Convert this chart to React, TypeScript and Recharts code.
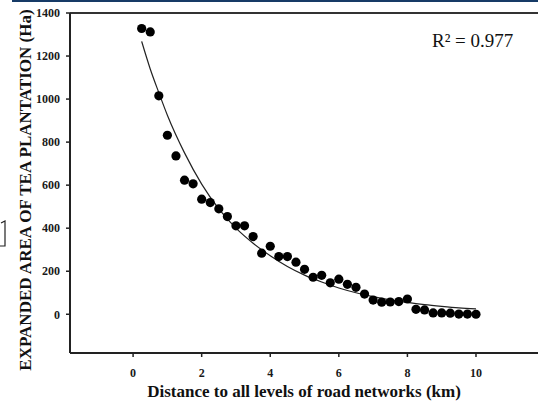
import { ComposedChart, Line, ReferenceLine, Scatter, XAxis, YAxis } from 'recharts'

// Distance (km) and expanded tea plantation area (Ha).
const distanceKm = [
  0.25, 0.5, 0.75, 1.0, 1.25, 1.5, 1.75, 2.0, 2.25, 2.5,
  2.75, 3.0, 3.25, 3.5, 3.75, 4.0, 4.25, 4.5, 4.75, 5.0,
  5.25, 5.5, 5.75, 6.0, 6.25, 6.5, 6.75, 7.0, 7.25, 7.5,
  7.75, 8.0, 8.25, 8.5, 8.75, 9.0, 9.25, 9.5, 9.75, 10.0,
]
const expandedHa = [
  1328, 1312, 1015, 832, 736, 623, 606, 535, 519, 490,
  454, 411, 411, 361, 284, 316, 268, 268, 242, 209,
  172, 181, 146, 163, 139, 125, 94, 66, 56, 57,
  59, 71, 23, 20, 6, 6, 5, 1, 1, 0,
]

// Fitted curve, sampled from the drawn line.
const curveKm = [0.25, 0.5, 0.75, 1.0, 1.5, 2.0, 2.5, 3.0, 3.5, 4.0, 4.5, 5.0, 5.5, 6.0, 6.5, 7.0, 7.5, 8.0, 8.5, 9.0, 9.5, 10.0]
const curveHa = [1268, 1140, 1030, 925, 750, 605, 490, 400, 330, 272, 222, 182, 150, 122, 100, 82, 67, 55, 45, 37, 30, 25]

const xTicks = [0, 2, 4, 6, 8, 10]
const yTicks = [0, 200, 400, 600, 800, 1000, 1200, 1400]

const rSquared = 'R² = 0.977'
const xTitle = 'Distance to all levels of road networks (km)'
const yTitle = 'EXPANDED AREA OF TEA PLANTATION (Ha)'

const points = distanceKm.map((x, i) => ({ x, y: expandedHa[i] }))
const curve = curveKm.map((x, i) => ({ x, y: curveHa[i] }))

const serif = '"Liberation Serif", "Times New Roman", serif'
const tickStyle = { fill: '#1a1a1a', fontSize: 12, fontWeight: 700, fontFamily: serif }
const axisLine = { stroke: '#222', strokeWidth: 2 }

const Dot = (props: any) => <circle cx={props.cx} cy={props.cy} r={4.6} fill="#000" />

export default function App() {
  return (
    <div style={{ position: 'fixed', left: 0, top: 0, width: 538, height: 404, overflow: 'hidden', background: '#fff' }}>
      <ComposedChart width={620} height={404} margin={{ top: 13, right: 48, bottom: 0, left: 0 }}>
        <XAxis
          type="number"
          dataKey="x"
          domain={[-1.84, 12.8]}
          ticks={xTicks}
          allowDataOverflow
          height={51}
          tick={tickStyle}
          tickSize={4}
          tickMargin={11}
          axisLine={axisLine}
          tickLine={{ stroke: '#222', strokeWidth: 1.5 }}
        />
        <YAxis
          type="number"
          dataKey="y"
          domain={[-180, 1400]}
          ticks={yTicks}
          allowDataOverflow
          width={70}
          tick={tickStyle}
          tickSize={4}
          tickMargin={6}
          axisLine={axisLine}
          tickLine={{ stroke: '#222', strokeWidth: 1.5 }}
        />
        <ReferenceLine y={1400} stroke="#333" strokeWidth={2} ifOverflow="visible" />
        <Line
          data={curve}
          dataKey="y"
          type="monotone"
          stroke="#222"
          strokeWidth={1.2}
          dot={false}
          isAnimationActive={false}
        />
        <Scatter data={points} dataKey="y" shape={Dot} isAnimationActive={false} />
      </ComposedChart>

      <svg
        width={538}
        height={404}
        style={{ position: 'absolute', left: 0, top: 0, pointerEvents: 'none' }}
      >
        <line x1={12} y1={1} x2={538} y2={1} stroke="#163a66" strokeWidth={2} />
        <path d="M1 223 L5 221 L5 246 L0 246" fill="none" stroke="#222" strokeWidth={1.2} />
        <text x={432} y={47} fontFamily={serif} fontSize={19} fill="#111">
          {rSquared}
        </text>
        <text x={304} y={397} textAnchor="middle" fontFamily={serif} fontSize={17} fontWeight={700} fill="#111">
          {xTitle}
        </text>
        <text
          x={31}
          y={190}
          transform="rotate(-90 31 190)"
          textAnchor="middle"
          fontFamily={serif}
          fontSize={17}
          fontWeight={700}
          fill="#111"
        >
          {yTitle}
        </text>
      </svg>
    </div>
  )
}
